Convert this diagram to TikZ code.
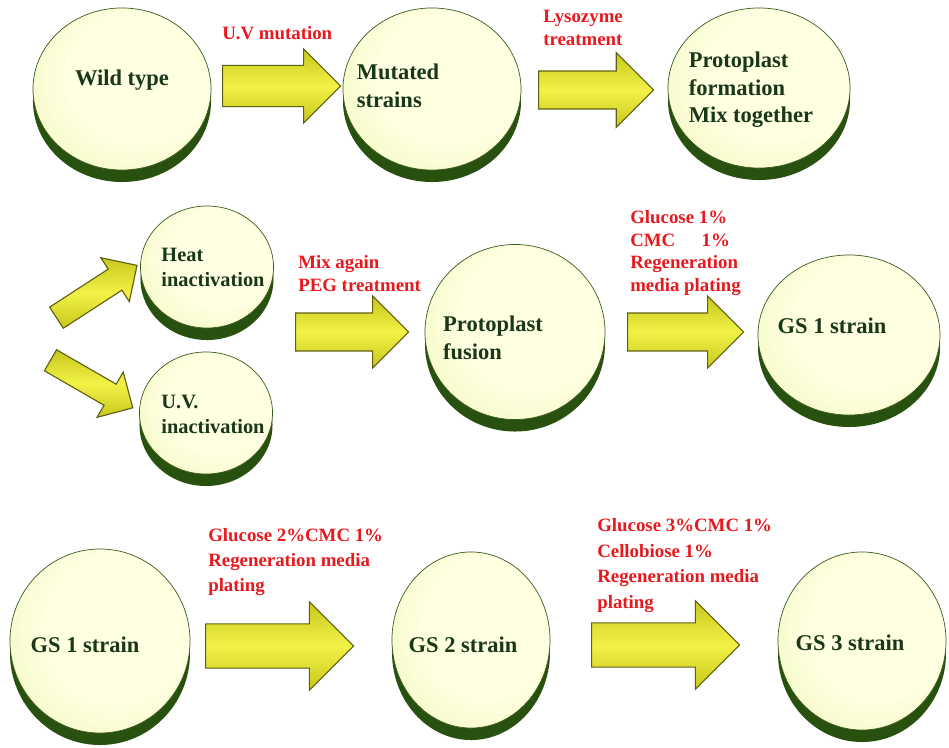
\documentclass[tikz,border=0pt]{standalone}
\usepackage{fontspec}
\setmainfont{Liberation Serif}
\usetikzlibrary{shapes.geometric,shapes.arrows,shadows}

\definecolor{discin}{RGB}{255,255,226}
\definecolor{discmid}{RGB}{238,247,180}
\definecolor{discout}{RGB}{208,230,135}
\definecolor{discrim}{RGB}{40,80,15}
\definecolor{discline}{RGB}{60,90,30}
\definecolor{disctxt}{RGB}{25,55,25}
\definecolor{labelred}{RGB}{230,25,30}
\definecolor{arrowlt}{RGB}{242,242,70}
\definecolor{arrowdk}{RGB}{200,200,28}
\definecolor{arrowline}{RGB}{95,95,20}

\pgfdeclareradialshading{discshade}{\pgfpoint{8bp}{6bp}}{%
  color(0bp)=(discin); color(20bp)=(discin); color(40bp)=(discmid); color(50bp)=(discout)}

\tikzset{
  disc/.style={ellipse, inner sep=0pt, draw=discline, line width=0.5pt,
    shading=discshade,
    drop shadow={shadow xshift=0mm, shadow yshift=-3mm, fill=discrim, opacity=1}},
  disctext/.style={text=disctxt, font=\bfseries\fontsize{16}{19.5}\selectfont,
    align=left, inner sep=0pt},
  smalltext/.style={disctext, font=\bfseries\fontsize{14.5}{17.8}\selectfont},
  steplabel/.style={text=labelred, font=\bfseries\fontsize{13.4}{16.2}\selectfont,
    align=left, inner sep=0pt, anchor=north west},
  bigarrow/.style={single arrow, anchor=tail, draw=arrowline, line width=0.8pt,
    top color=arrowdk, bottom color=arrowdk, middle color=arrowlt,
    inner xsep=0pt, single arrow tip angle=90}
}

\begin{document}
\begin{tikzpicture}[x=0.025cm, y=-0.025cm]
  \useasboundingbox (0,0) rectangle (949,748);

  \node[disc, minimum width=44.5mm, minimum height=40.5mm] (wild) at (122,89) {};
  \node[disc, minimum width=44.5mm, minimum height=40.5mm] (mutated) at (432,89) {};
  \node[disc, minimum width=45.5mm, minimum height=40mm] (formation) at (759,88) {};
  \node[disc, minimum width=33.25mm, minimum height=30.5mm] (heat) at (207,267) {};
  \node[disc, minimum width=33.25mm, minimum height=30.5mm] (uv) at (206,413) {};
  \node[disc, minimum width=45mm, minimum height=43.75mm] (fusion) at (515,332) {};
  \node[disc, minimum width=45.5mm, minimum height=40mm] (gsonea) at (849,335) {};
  \node[disc, minimum width=45mm, minimum height=46mm] (gsoneb) at (100,641) {};
  \node[disc, minimum width=39.5mm, minimum height=44mm] (gstwo) at (471,640) {};
  \node[disc, minimum width=42mm, minimum height=44.5mm] (gsthree) at (862,641) {};

  \node[disctext] (wildtxt) at (122,80) {Wild type};
  \node[disctext] (mutatedtxt) at (398,86) {Mutated\\strains};
  \node[disctext] (formationtxt) at (751,90) {Protoplast\\formation\\Mix together};
  \node[smalltext] (heattxt) at (213,267) {Heat\\inactivation};
  \node[smalltext] (uvtxt) at (213,414) {U.V.\\inactivation};
  \node[disctext] (fusiontxt) at (493,338) {Protoplast\\fusion};
  \node[disctext] (gsoneatxt) at (832,326) {GS 1 strain};
  \node[disctext] (gsonebtxt) at (85,645) {GS 1 strain};
  \node[disctext] (gstwotxt) at (463,645) {GS 2 strain};
  \node[disctext] (gsthreetxt) at (850,643) {GS 3 strain};

  \node[bigarrow, minimum height=29.5mm, inner ysep=5mm, single arrow head extend=4.1mm] (uvmut) at (222,86) {};
  \node[bigarrow, minimum height=28.75mm, inner ysep=4.6mm, single arrow head extend=4.6mm] (lyso) at (538,90) {};
  \node[bigarrow, minimum height=24mm, inner ysep=3mm, single arrow head extend=3.4mm, rotate=33] (toheat) at (56,318) {};
  \node[bigarrow, minimum height=23.75mm, inner ysep=2.9mm, single arrow head extend=3.5mm, rotate=-30] (touv) at (50,360) {};
  \node[bigarrow, minimum height=28.25mm, inner ysep=4.6mm, single arrow head extend=4.25mm] (peg) at (295,332) {};
  \node[bigarrow, minimum height=29mm, inner ysep=4.6mm, single arrow head extend=4.25mm] (regenone) at (627,332) {};
  \node[bigarrow, minimum height=37mm, inner ysep=5.4mm, single arrow head extend=5.5mm] (regentwo) at (205,646) {};
  \node[bigarrow, minimum height=37mm, inner ysep=5.4mm, single arrow head extend=5.5mm] (regenthree) at (591,645) {};

  \node[steplabel] (uvmutlbl) at (222,26) {U.V mutation};
  \node[steplabel] (lysolbl) at (543,10) {Lysozyme\\treatment};
  \node[steplabel] (peglbl) at (298,255) {Mix again\\PEG treatment};
  \node[steplabel] (regenonelbl) at (630,210) {Glucose 1\%\\CMC\hspace{1.4em}1\%\\Regeneration\\media plating};
  \node[steplabel, font=\bfseries\fontsize{13.4}{17.8}\selectfont] (regentwolbl) at (208,528) {Glucose 2\%CMC 1\%\\Regeneration media\\plating};
  \node[steplabel, font=\bfseries\fontsize{13.4}{18.3}\selectfont] (regenthreelbl) at (597,518) {Glucose 3\%CMC 1\%\\Cellobiose 1\%\\Regeneration media\\plating};
\end{tikzpicture}
\end{document}
